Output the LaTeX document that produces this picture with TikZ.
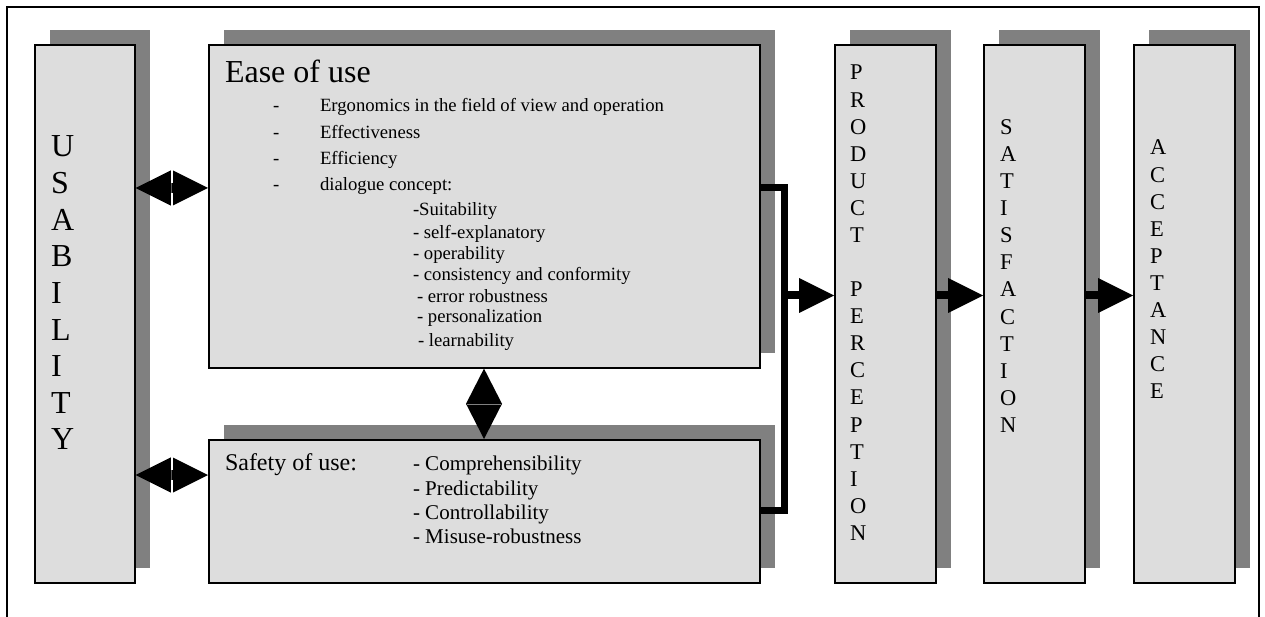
\documentclass[tikz,border=0pt]{standalone}
\usepackage{fontspec}
\setmainfont{Liberation Serif}
\usetikzlibrary{arrows.meta,shadows,calc}
\definecolor{boxfill}{HTML}{DDDDDD}
\definecolor{shadowgray}{HTML}{808080}
\begin{document}
\begin{tikzpicture}[x=1pt,y=-1pt,
  box/.style={draw=black, line width=1.6pt, fill=boxfill, inner sep=0pt, anchor=north west,
    general shadow={fill=shadowgray, draw=none, shadow xshift=15pt, shadow yshift=15pt}},
  txt/.style={anchor=base west, inner sep=0pt, outer sep=0pt},
  bigfont/.style={font=\fontsize{32pt}{36pt}\selectfont},
  itemfont/.style={font=\fontsize{18.7pt}{22pt}\selectfont},
  safefont/.style={font=\fontsize{24pt}{26pt}\selectfont},
  safeitem/.style={font=\fontsize{21pt}{24pt}\selectfont},
  colfont/.style={font=\fontsize{22.5pt}{27pt}\selectfont},
  blockarrow/.style={line width=8pt, -{Triangle[length=35pt,width=35pt,line width=0pt]}},
  twoway/.style={line width=10pt, {Triangle[length=36pt,width=36pt,line width=0pt]}-{Triangle[length=36pt,width=36pt,line width=0pt]}},
  updown/.style={line width=0.2pt, {Triangle[length=35.2pt,width=36pt,line width=0pt]}-{Triangle[length=35.2pt,width=36pt,line width=0pt]}},
  bracket/.style={line width=7pt}
]
\useasboundingbox (0,0) rectangle (1265,617);

% open outer frame
\draw[line width=2pt] (7,617) -- (7,7) -- (1259,7) -- (1259,617);

% boxes with their offset shadows
\node[box, minimum width=100pt, minimum height=538pt] (usab)   at (34,44)  {};
\node[box, minimum width=551pt, minimum height=323pt] (ease)   at (208,44) {};
\node[box, minimum width=551pt, minimum height=143pt] (safety) at (208,439) {};
\node[box, minimum width=101pt, minimum height=538pt] (prod)   at (834,44) {};
\node[box, minimum width=101pt, minimum height=538pt] (satis)  at (983,44) {};
\node[box, minimum width=101pt, minimum height=538pt] (accept) at (1133,44) {};

% rows and columns used by the connectors
\coordinate (rowA) at (0,188);
\coordinate (rowB) at (0,475);
\coordinate (rowC) at (0,295.5);
\coordinate (rowD) at (0,510.5);
\coordinate (bus)  at (784.5,0);
\coordinate (vcol) at (484,0);

% two-way arrows between USABILITY and its two parts
\draw[twoway] (usab.east |- rowA) -- (ease.west |- rowA);
\draw[twoway] (usab.east |- rowB) -- (safety.west |- rowB);
\foreach \r in {rowA,rowB}{
  \coordinate (m) at ($(usab.east |- \r)!0.5!(ease.west |- \r)$);
  \draw[white, line width=1.4pt] ($(m)+(0,-19)$) -- ($(m)+(0,-5)$);
  \draw[white, line width=1.4pt] ($(m)+(0,5)$) -- ($(m)+(0,19)$);
}

% two-way arrow between ease of use and safety of use
\draw[updown] (ease.south -| vcol) -- (safety.north -| vcol);
\coordinate (vm) at ($(ease.south -| vcol)!0.5!(safety.north -| vcol)$);
\draw[gray, line width=0.5pt] ($(vm)+(-17,0)$) -- ($(vm)+(17,0)$);

% bracket joining both parts and arrow into product perception
\draw[bracket] (ease.east |- rowA) -- (bus |- rowA) -- (bus |- rowD) -- (safety.east |- rowD);
\draw[blockarrow] (bus |- rowC) -- (prod.west |- rowC);
\draw[blockarrow] (prod.east |- rowC) -- (satis.west |- rowC);
\draw[blockarrow] (satis.east |- rowC) -- (accept.west |- rowC);

% USABILITY
\foreach \ch [count=\i from 0] in {U,S,A,B,I,L,I,T,Y}
  \node[txt, bigfont] (us\i) at (51,157+36.6*\i) {\ch};

% Ease of use
\node[txt, bigfont] (easetitle) at (225,83) {Ease of use};
\foreach \t [count=\i from 0] in {Ergonomics in the field of view and operation,Effectiveness,Efficiency,dialogue concept:}{
  \node[txt, itemfont] (ed\i) at (273,112+26.3*\i) {-};
  \node[txt, itemfont] (et\i) at (320,112+26.3*\i) {\t};
}
\node[txt, itemfont] (s1) at (413,215.5) {-Suitability};
\node[txt, itemfont] (s2) at (413,239) {- self-explanatory};
\node[txt, itemfont] (s3) at (413,259.5) {- operability};
\node[txt, itemfont] (s4) at (413,281) {- consistency and conformity};
\node[txt, itemfont] (s5) at (417,302) {- error robustness};
\node[txt, itemfont] (s6) at (417,323) {- personalization};
\node[txt, itemfont] (s7) at (418,346.5) {- learnability};

% Safety of use
\node[txt, safefont] (safetitle) at (225,470) {Safety of use:};
\node[txt, safeitem] (f1) at (413,470) {- Comprehensibility};
\node[txt, safeitem] (f2) at (413,495) {- Predictability};
\node[txt, safeitem] (f3) at (413,519) {- Controllability};
\node[txt, safeitem] (f4) at (413,543) {- Misuse-robustness};

% PRODUCT PERCEPTION
\foreach \ch [count=\i from 0] in {P,R,O,D,U,C,T}
  \node[txt, colfont] (pa\i) at (850,80+27.08*\i) {\ch};
\foreach \ch [count=\i from 8] in {P,E,R,C,E,P,T,I,O,N}
  \node[txt, colfont] (pb\i) at (850,80+27.08*\i) {\ch};

% SATISFACTION
\foreach \ch [count=\i from 0] in {S,A,T,I,S,F,A,C,T,I,O,N}
  \node[txt, colfont] (sa\i) at (1000,134.5+27.08*\i) {\ch};

% ACCEPTANCE
\foreach \ch [count=\i from 0] in {A,C,C,E,P,T,A,N,C,E}
  \node[txt, colfont] (ac\i) at (1150,155+27.08*\i) {\ch};
\end{tikzpicture}
\end{document}
